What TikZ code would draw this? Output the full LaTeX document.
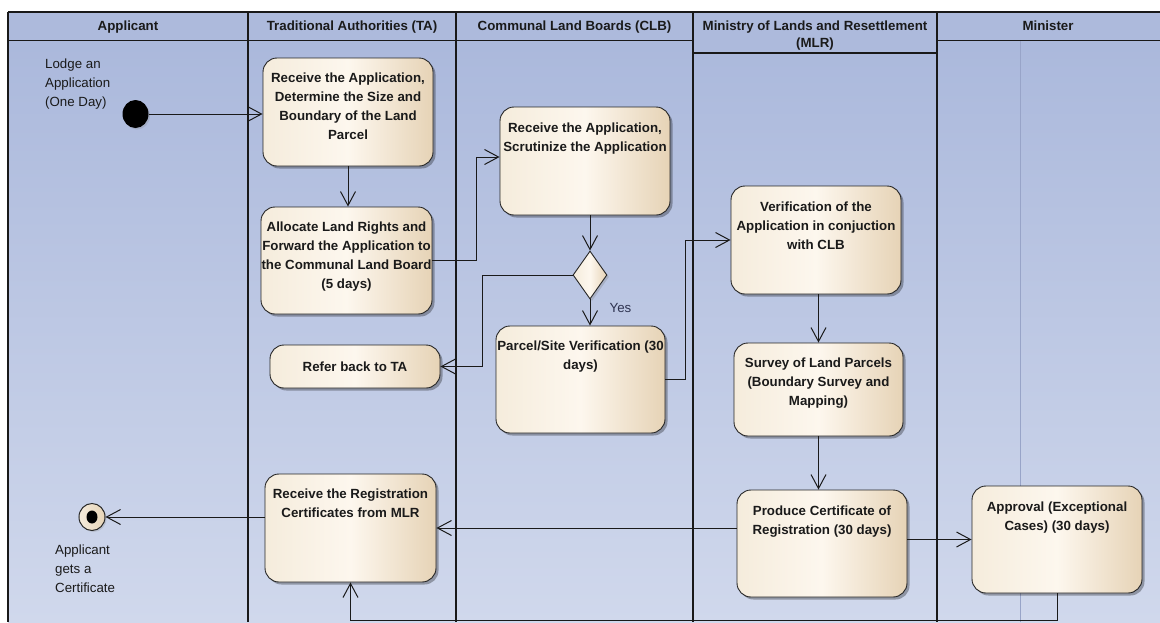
\documentclass[tikz,border=0pt]{standalone}
\usepackage{fontspec}
\setmainfont{Liberation Sans}
\usetikzlibrary{arrows.meta,shapes.geometric,shadows,calc}

\definecolor{laneTop}{HTML}{A9B7DB}
\definecolor{laneBot}{HTML}{D0D8EC}
\definecolor{headFill}{HTML}{ADBADC}
\definecolor{boxL}{HTML}{F5ECDC}
\definecolor{boxM}{HTML}{FDF7EE}
\definecolor{boxR}{HTML}{E6D3B6}
\definecolor{ink}{HTML}{1A1A1A}
\definecolor{yesInk}{HTML}{2E3350}
\definecolor{partLine}{HTML}{98A4C8}

\tikzset{
  lanerule/.style={line width=1.3pt, draw=black!90},
  headtxt/.style={font=\fontsize{13.3}{17}\selectfont\bfseries, text=ink, inner sep=0pt, anchor=north, align=center},
  actbox/.style={draw=black!85, line width=0.9pt, rounded corners=14pt,
    left color=boxL, right color=boxR, middle color=boxM,
    drop shadow={shadow xshift=2.5pt, shadow yshift=-2.5pt, opacity=0.3, fill=black},
    inner sep=0pt},
  acttxt/.style={font=\fontsize{13.3}{19}\selectfont\bfseries, text=ink, inner sep=0pt, anchor=north, align=center},
  notetxt/.style={font=\fontsize{13.3}{19}\selectfont, text=ink, inner sep=0pt, anchor=north west, align=left},
  flow/.style={draw=ink, line width=1pt, -{Straight Barb[length=14pt,width=15pt]}},
}

\begin{document}
\begin{tikzpicture}[x=1pt,y=-1pt]
\useasboundingbox (0,0) rectangle (1160,622);

% swimlane background and headers
\shade[top color=laneTop, bottom color=laneBot] (8,12) rectangle (1160,622);
\fill[headFill] (8,12) rectangle (1160,40.5);
\fill[headFill] (693,40.5) rectangle (937,53);
\draw[partLine, line width=0.5pt] (1020,41) -- (1020,622);
\draw[lanerule] (8,12) -- (1160,12);
\draw[lanerule] (8,40.5) -- (693,40.5);
\draw[lanerule] (937,40.5) -- (1160,40.5);
\draw[lanerule] (693,53) -- (937,53);
\foreach \lx in {8,248,456,693,937}
  \draw[lanerule] (\lx,12) -- (\lx,622);

\node[headtxt] (h-app) at (128,18.1) {\strut Applicant};
\node[headtxt] (h-ta)  at (352,18.1) {\strut Traditional Authorities (TA)};
\node[headtxt] (h-clb) at (574.5,18.1) {\strut Communal Land Boards (CLB)};
\node[headtxt] (h-mlr) at (815,18.1) {\strut Ministry of Lands and Resettlement\\(MLR)};
\node[headtxt] (h-min) at (1048,18.1) {\strut Minister};

% initial and final nodes
\node[ellipse, fill=black, minimum width=26pt, minimum height=28pt, inner sep=0pt,
      drop shadow={shadow xshift=1.5pt, shadow yshift=-1.5pt, opacity=0.25}] (start) at (135.5,114) {};
\node[notetxt] (start-t) at (45,54.7) {\strut Lodge an\\Application\\(One Day)};

\node[ellipse, draw=black!85, line width=1pt, left color=boxL, right color=boxR,
      minimum width=26pt, minimum height=27pt, inner sep=0pt,
      drop shadow={shadow xshift=1.5pt, shadow yshift=-1.5pt, opacity=0.25}] (final) at (92,517) {};
\node[ellipse, fill=black, minimum width=11pt, minimum height=13pt, inner sep=0pt] (final-dot) at (final) {};
\node[notetxt] (final-t) at (55,540.7) {\strut Applicant\\gets a\\Certificate};

% activities: Traditional Authorities
\node[actbox, minimum width=170pt, minimum height=108pt] (recvTA) at (348,112) {};
\node[acttxt] (recvTA-t) at ([yshift=-11.7pt]recvTA.north) {\strut Receive the Application,\\Determine the Size and\\Boundary of the Land\\Parcel};

\node[actbox, minimum width=171pt, minimum height=107pt] (alloc) at (346.5,260.5) {};
\node[acttxt] (alloc-t) at ([yshift=-11.7pt]alloc.north) {\strut Allocate Land Rights and\\Forward the Application to\\the Communal Land Board\\(5 days)};

\node[actbox, minimum width=170pt, minimum height=43pt, font=\fontsize{13.3}{19}\selectfont\bfseries, text=ink] (refer) at (355,366.5) {Refer back to TA};

\node[actbox, minimum width=171pt, minimum height=108pt] (recvReg) at (350.5,528) {};
\node[acttxt] (recvReg-t) at ([yshift=-11.7pt]recvReg.north) {\strut Receive the Registration\\Certificates from MLR};

% activities: Communal Land Boards
\node[actbox, minimum width=170pt, minimum height=108pt] (clbRecv) at (585,161) {};
\node[acttxt] (clbRecv-t) at ([yshift=-12.7pt]clbRecv.north) {\strut Receive the Application,\\Scrutinize the Application};

\node[diamond, aspect=0.7, draw=black!85, line width=0.9pt,
      left color=boxL, right color=boxR, middle color=boxM,
      minimum width=34pt, minimum height=48pt, inner sep=0pt,
      drop shadow={shadow xshift=2pt, shadow yshift=-2pt, opacity=0.3}] (dec) at (590,275) {};

\node[actbox, minimum width=169pt, minimum height=107pt] (parcel) at (580.5,379.5) {};
\node[acttxt] (parcel-t) at ([yshift=-11.7pt]parcel.north) {\strut Parcel/Site Verification (30\\days)};

% activities: Ministry of Lands and Resettlement
\node[actbox, minimum width=170pt, minimum height=108pt] (verif) at (816,240) {};
\node[acttxt] (verif-t) at ([yshift=-12.7pt]verif.north) {\strut Verification of the\\Application in conjuction\\with CLB};

\node[actbox, minimum width=169pt, minimum height=93pt] (survey) at (818.5,389.5) {};
\node[acttxt] (survey-t) at ([yshift=-11.7pt]survey.north) {\strut Survey of Land Parcels\\(Boundary Survey and\\Mapping)};

\node[actbox, minimum width=170pt, minimum height=107pt] (produce) at (822,543.5) {};
\node[acttxt] (produce-t) at ([yshift=-12.7pt]produce.north) {\strut Produce Certificate of\\Registration (30 days)};

% activity: Minister
\node[actbox, minimum width=170pt, minimum height=107pt] (approval) at (1057,539.5) {};
\node[acttxt] (approval-t) at ([yshift=-12.7pt]approval.north) {\strut Approval (Exceptional\\Cases) (30 days)};

% control flows
\draw[flow] (start.east) -- (start.east -| recvTA.west);
\draw[flow] (recvTA.south) -- (recvTA.south |- alloc.north);
\draw[flow] (alloc.east) -- ++(44,0) |- ([yshift=4pt]clbRecv.west);
\draw[flow] (dec.north |- clbRecv.south) -- (dec.north);
\draw[flow] (dec.south) -- (dec.south |- parcel.north);
\node[font=\fontsize{13.3}{19}\selectfont, text=yesInk, inner sep=0pt, anchor=base] (yes) at (620.5,312) {Yes};
\draw[flow] (dec.west) -- ++(-90,0) |- (refer.east);
\draw[flow] (parcel.east) -- ++(20,0) |- (verif.west);
\draw[flow] (survey.north |- verif.south) -- (survey.north);
\draw[flow] (survey.south) -- (survey.south |- produce.north);
\draw[flow] (produce.west |- recvReg.east) -- (recvReg.east);
\draw[flow] (produce.east |- approval.west) -- (approval.west);
\draw[flow] (approval.south) -- ++(0,27) -| (recvReg.south);
\draw[flow] (recvReg.west |- final.east) -- (final.east);
\end{tikzpicture}
\end{document}
